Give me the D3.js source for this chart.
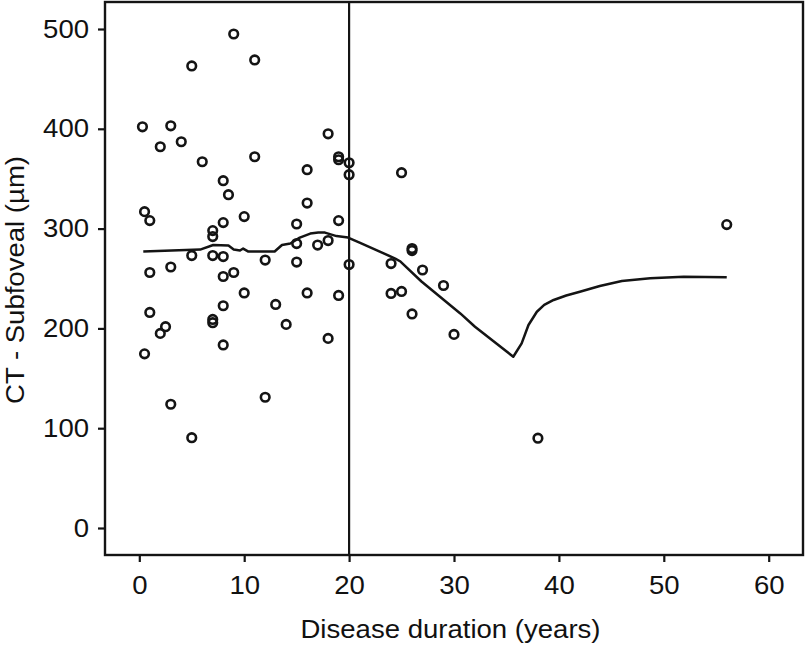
<!DOCTYPE html>
<html>
<head>
<meta charset="utf-8">
<script src="https://cdn.jsdelivr.net/npm/d3@7"></script>
<style>
  html, body { margin: 0; padding: 0; background: #fff; }
  svg { display: block; font-family: "Liberation Sans", Arial, Helvetica, sans-serif; }
</style>
</head>
<body>
<svg id="chart" width="805" height="647"></svg>
<script>
// Scatter points: disease duration (years) and subfoveal CT (µm)
const durationYears = [0.3, 3, 2, 4, 6, 5, 9, 11, 11, 8, 8.5, 10, 8, 0.5, 1, 7, 7, 5, 7, 8, 12, 1, 3, 8, 9, 10,
  16, 18, 19, 19, 20, 20, 16, 15, 19, 15, 17, 18, 15, 20, 16, 19, 25, 56, 1, 0.5, 2, 2.5, 7, 7, 8, 8, 3, 5, 12,
  13, 14, 18, 26, 30, 38, 26, 26, 24, 27, 29, 24, 25];
const subfovealCT = [402, 403, 382, 387, 367, 463, 495, 469, 372, 348, 334, 312, 306, 317, 308, 298, 292, 273, 273, 272, 268.5, 256, 261.5, 252, 256, 235.5,
  359, 395, 372, 369, 366, 354, 325.6, 304.6, 308, 285, 283.5, 288, 266.5, 264, 235.5, 233, 356, 304, 216, 174.5, 195, 201.7, 209, 205.7, 222.7, 183.4, 124, 90.5, 131,
  224, 204, 190, 214.5, 194, 90, 280, 278, 265, 258.5, 243, 235, 237];

// Loess fit line
const loessX = [0.38, 5.8, 7.05, 8.5, 9.0, 9.6, 9.9, 10.4, 12.9, 13.6, 14.4, 15.3, 16.3, 17.06, 17.7, 18.8, 19.9, 21.0, 24.4, 24.9, 26.9, 30.6, 32.0, 35.65, 36.45, 37.1, 37.9, 38.6, 39.5, 40.7, 42.0, 43.9, 46.0, 48.7, 51.9, 56.0];
const loessY = [277, 279, 283.6, 283, 279, 278, 280, 277, 277, 283.6, 285, 291, 295, 296, 296, 292.5, 291, 286, 270, 267, 247, 215, 201.7, 171.6, 185, 203.4, 216.7, 223.5, 228.5, 233, 236.8, 242.5, 247.5, 250.2, 251.8, 251.2];

// Reference line position
const refLineX = [20];

const xTicks = [0, 10, 20, 30, 40, 50, 60];
const yTicks = [0, 100, 200, 300, 400, 500];
const xTitle = "Disease duration (years)";
const yTitle = "CT - Subfoveal (µm)";

const margin = { left: 105, top: 2, right: 2, bottom: 92 };
const W = 805, H = 647;
const innerW = W - margin.left - margin.right;
const innerH = H - margin.top - margin.bottom;

const svg = d3.select("#chart");
const g = svg.append("g").attr("transform", `translate(${margin.left},${margin.top})`);

const x = d3.scaleLinear().domain([-3.27, 63.27]).range([0, innerW]);
const y = d3.scaleLinear().domain([-27.05, 527.05]).range([innerH, 0]);

const ink = "#141414";
const stretch = 1.08;

function widen(sel) {
  sel.each(function () {
    const len = this.getComputedTextLength();
    d3.select(this).attr("textLength", len * stretch).attr("lengthAdjust", "spacingAndGlyphs");
  });
}

// Axes
const xAxis = g.append("g")
  .attr("transform", `translate(0,${innerH})`)
  .call(d3.axisBottom(x).tickValues(xTicks).tickSize(7).tickSizeOuter(0).tickPadding(14));
const yAxis = g.append("g")
  .call(d3.axisLeft(y).tickValues(yTicks).tickSize(7).tickSizeOuter(0).tickPadding(9));

[xAxis, yAxis].forEach(a => {
  a.select(".domain").remove();
  a.selectAll(".tick line").attr("stroke", ink).attr("stroke-width", 2.2);
  a.selectAll(".tick text").attr("fill", "#111").style("font-size", "25.5px")
    .style("font-family", '"Liberation Sans", Arial, sans-serif')
    .call(widen);
});

// Frame
g.append("rect")
  .attr("x", 0).attr("y", 0).attr("width", innerW).attr("height", innerH)
  .attr("fill", "none").attr("stroke", ink).attr("stroke-width", 2.4);

// Vertical reference line
g.selectAll(".ref").data(refLineX).enter().append("line")
  .attr("x1", d => x(d)).attr("x2", d => x(d))
  .attr("y1", 0).attr("y2", innerH)
  .attr("stroke", ink).attr("stroke-width", 2.2);

// Loess line
const loessData = loessX.map((v, i) => [v, loessY[i]]);
g.append("path")
  .datum(loessData)
  .attr("fill", "none")
  .attr("stroke", ink)
  .attr("stroke-width", 2.5)
  .attr("stroke-linejoin", "round")
  .attr("d", d3.line().x(d => x(d[0])).y(d => y(d[1])));

// Points
const pts = durationYears.map((v, i) => [v, subfovealCT[i]]);
g.selectAll(".pt").data(pts).enter().append("circle")
  .attr("cx", d => x(d[0])).attr("cy", d => y(d[1]))
  .attr("r", 4.3)
  .attr("fill", "none")
  .attr("stroke", ink)
  .attr("stroke-width", 2.6);

// Axis titles
svg.append("text")
  .attr("x", 450.5).attr("y", 638)
  .attr("text-anchor", "middle")
  .style("font-size", "25.5px").attr("fill", "#111")
  .text(xTitle)
  .call(widen);

svg.append("text")
  .attr("transform", `translate(23.5,280) rotate(-90)`)
  .attr("text-anchor", "middle")
  .style("font-size", "25.5px").attr("fill", "#111")
  .text(yTitle)
  .call(widen);
</script>
</body>
</html>
